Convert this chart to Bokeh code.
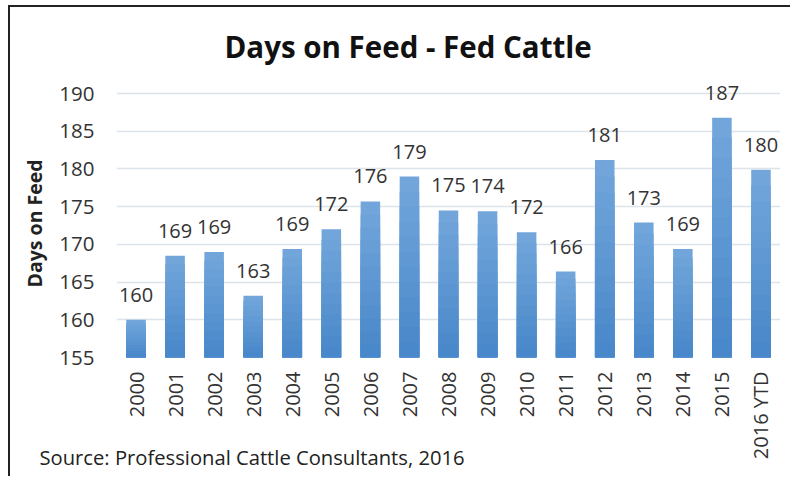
from bokeh.plotting import figure
from bokeh.models import FactorRange, Range1d, FixedTicker, Title, ColumnDataSource
from bokeh.core.properties import value
from bokeh.embed import file_html
from bokeh.resources import INLINE
import math

# ---- data ----
years = ["2000", "2001", "2002", "2003", "2004", "2005", "2006", "2007", "2008",
         "2009", "2010", "2011", "2012", "2013", "2014", "2015", "2016 YTD"]
days = [160, 168.5, 169, 163.2, 169.4, 172, 175.7, 179, 174.5,
        174.4, 171.6, 166.4, 181.2, 172.9, 169.4, 186.8, 179.9]
labels = ["160", "169", "169", "163", "169", "172", "176", "179", "175",
          "174", "172", "166", "181", "173", "169", "187", "180"]
y_ticks = [155, 160, 165, 170, 175, 180, 185, 190]
title_text = "Days on Feed - Fed Cattle"
y_title = "Days on Feed"
source_text = "Source: Professional Cattle Consultants, 2016"

FONT = "Open Sans"
BASE = 155

p = figure(width=782, height=471, x_range=FactorRange(*years, range_padding=0),
           y_range=Range1d(BASE, 192), output_backend="svg", toolbar_location=None,
           min_border_left=105, min_border_right=12, min_border_top=71, min_border_bottom=121)
p.margin = (5, 0, 0, 8)
p.styles = {"border-left": "2px solid #222", "border-top": "2px solid #222"}
p.outline_line_color = None
p.background_fill_color = "white"
p.border_fill_color = "white"

# gradient bars: light at top, darker toward bottom
top_col = (0x72, 0xa6, 0xdb)
bot_col = (0x45, 0x85, 0xc8)
n = 12
for k in range(n):
    f = k / n
    c = tuple(int(round(top_col[i] + (bot_col[i] - top_col[i]) * f)) for i in range(3))
    col = "#%02x%02x%02x" % c
    tops = [BASE + (v - BASE) * (1 - f) for v in days]
    p.vbar(x=years, top=tops, bottom=BASE, width=0.5, fill_color=col, line_color=None)

src = ColumnDataSource(dict(x=years, y=days, t=labels))
p.text(x="x", y="y", text="t", source=src, text_align="center", text_baseline="alphabetic",
       y_offset=-25, text_font=value(FONT), text_font_size="20px", text_color="#333333")

# axes
p.yaxis.ticker = FixedTicker(ticks=y_ticks)
p.yaxis.axis_line_color = None
p.yaxis.major_tick_line_color = None
p.yaxis.minor_tick_line_color = None
p.yaxis.major_tick_out = 0
p.yaxis.major_label_standoff = 22
p.yaxis.major_label_text_font = FONT
p.yaxis.major_label_text_font_size = "20.5px"
p.yaxis.major_label_text_color = "#333333"

p.xaxis.axis_line_color = None
p.xaxis.major_tick_line_color = None
p.xaxis.major_tick_out = 0
p.xaxis.major_label_orientation = math.pi / 2
p.xaxis.major_label_standoff = 14
p.xaxis.major_label_text_font = FONT
p.xaxis.major_label_text_font_size = "20px"
p.xaxis.major_label_text_color = "#333333"

p.xgrid.grid_line_color = None
p.ygrid.grid_line_color = "#dde3ea"
p.ygrid.grid_line_width = 1.5

p.title.text = title_text
p.title.align = "left"
p.title.offset = 108
p.title.standoff = 24
p.title.text_font = FONT
p.title.text_font_size = "29.5px"
p.title.text_font_style = "bold"
p.title.text_color = "#111111"

p.add_layout(Title(text=y_title, align="left", offset=70, standoff=17,
                   text_font=FONT, text_font_size="19.5px", text_font_style="bold",
                   text_color="#222222"), "left")

p.add_layout(Title(text=source_text, align="left", offset=-77, standoff=-40,
                   vertical_align="top",
                   text_font=FONT, text_font_size="20.2px", text_font_style="normal",
                   text_color="#222222"), "below")

open("out.html", "w").write(file_html(p, INLINE))
